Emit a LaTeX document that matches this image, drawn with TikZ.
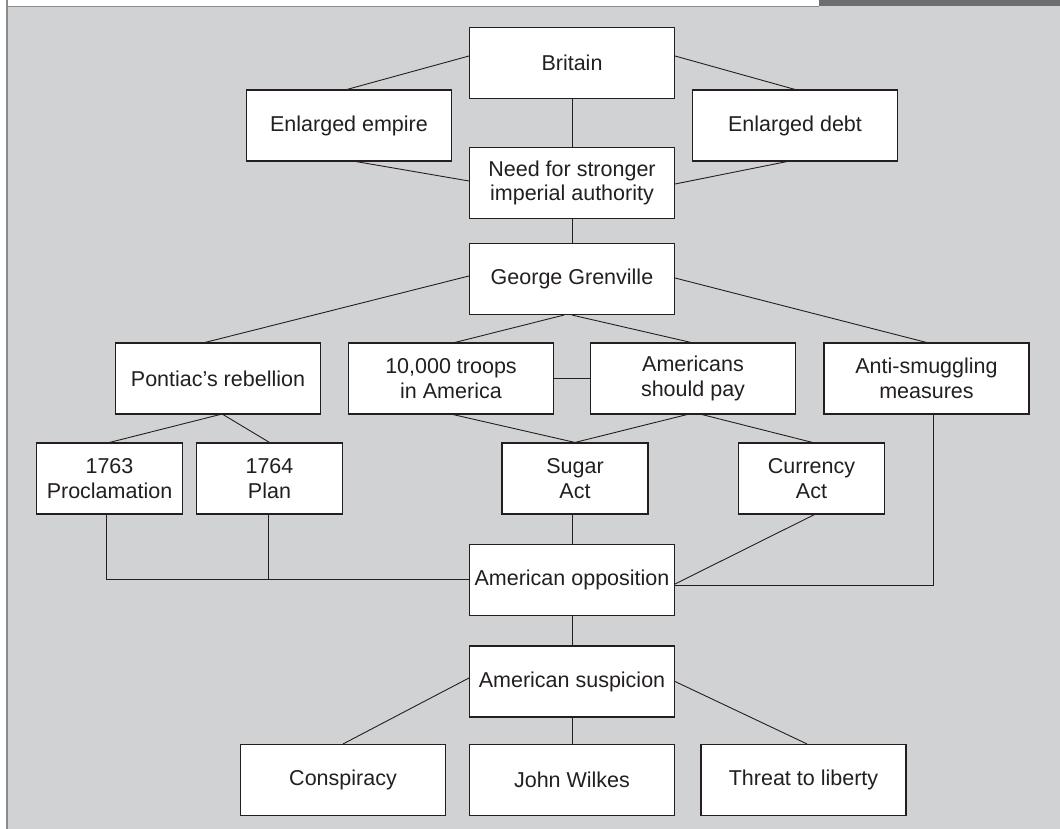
\documentclass[tikz,border=0pt]{standalone}
\usepackage{fontspec}
\setmainfont{Liberation Sans}
\definecolor{panel}{HTML}{D1D2D4}
\definecolor{ink}{HTML}{231F20}
\definecolor{hdr}{HTML}{6D6E71}
\definecolor{frame}{HTML}{8A8B8D}
\tikzset{
  box/.style={draw=ink, fill=white, line width=1.1pt, rectangle, align=center,
    minimum width=205pt, minimum height=71pt, inner sep=0pt, text=ink,
    font=\fontsize{21.5}{24.5}\selectfont},
  nbox/.style={box, minimum width=146pt},
  link/.style={draw=ink, line width=0.9pt},
}
\begin{document}
\begin{tikzpicture}[x=1pt, y=-1pt]
\useasboundingbox (0,0) rectangle (1060,829);
% header and panel
\fill[white] (0,0) rectangle (1060,829);
\fill[hdr] (819,0) rectangle (1060,6.5);
\fill[panel] (7,6.5) rectangle (1060,829);
\draw[frame, line width=1.4pt] (7,829) -- (7,0);
\draw[frame, line width=1.2pt] (7,6.2) -- (819,6.2);
% nodes
\node[box] (brit) at (572,63) {Britain};
\node[box] (emp) at (349,125.5) {Enlarged empire};
\node[box] (debt) at (795,125.5) {Enlarged debt};
\node[box] (need) at (572,183) {Need for stronger\\imperial authority};
\node[box] (gren) at (572,279) {George Grenville};
\node[box] (pont) at (218,378.5) {Pontiac’s rebellion};
\node[box] (troops) at (451,378.5) {10,000 troops\\in America};
\node[box] (amer) at (693,378.5) {Americans\\should pay};
\node[box] (anti) at (926.5,378.5) {Anti-smuggling\\measures};
\node[nbox] (procl) at (109.5,478.5) {1763\\Proclamation};
\node[nbox] (plan) at (269.5,478.5) {1764\\Plan};
\node[nbox] (sugar) at (575,478.5) {Sugar\\Act};
\node[nbox] (curr) at (811.5,478.5) {Currency\\Act};
\node[box] (opp) at (572,580) {American opposition};
\node[box] (susp) at (572,681.5) {American suspicion};
\node[box] (consp) at (343,780) {Conspiracy};
\node[box] (wilkes) at (572,780) {John Wilkes};
\node[box] (threat) at (803.5,780) {Threat to liberty};
% connectors
\draw[link] ([yshift=7pt]brit.west) -- ([xshift=-2pt]emp.north);
\draw[link] ([yshift=7pt]brit.east) -- (debt.north);
\draw[link] (brit.south) -- (need.north);
\draw[link] ([xshift=7pt]emp.south) -- ([yshift=2pt]need.west);
\draw[link] ([xshift=-8pt]debt.south) -- ([yshift=-1pt]need.east);
\draw[link] (need.south) -- (gren.north);
\draw[link] ([yshift=3pt]gren.west) -- ([xshift=-13pt]pont.north);
\draw[link] ([xshift=-8pt]gren.south) -- ([xshift=4pt]troops.north);
\draw[link] (gren.south) -- ([xshift=-2pt]amer.north);
\draw[link] ([yshift=1pt]gren.east) -- (anti.north);
\draw[link] (troops.east) -- (amer.west);
\draw[link] ([xshift=2pt]pont.south) -- (procl.north);
\draw[link] ([xshift=5pt]pont.south) -- (plan.north);
\draw[link] ([xshift=2pt]troops.south) -- (sugar.north);
\draw[link] ([xshift=-6pt]amer.south) -- (sugar.north);
\draw[link] ([xshift=9pt]amer.south) -- ([xshift=1pt]curr.north);
\draw[link] ([xshift=-3pt]procl.south) |- ([yshift=1pt]opp.west);
\draw[link] ([xshift=-1pt]plan.south) -- ([xshift=-1pt,yshift=1pt]plan.south |- opp.west);
\draw[link] (opp.north) -- (opp.north |- sugar.south);
\draw[link] ([xshift=3pt]curr.south) -- ([yshift=-4pt]opp.east);
\draw[link] ([xshift=6.5pt]anti.south) |- ([yshift=-5pt]opp.east);
\draw[link] (opp.south) -- (susp.north);
\draw[link] ([yshift=3.5pt]susp.west) -- (consp.north);
\draw[link] (susp.south) -- (wilkes.north);
\draw[link] (susp.east) -- ([xshift=3.5pt]threat.north);
\end{tikzpicture}
\end{document}
